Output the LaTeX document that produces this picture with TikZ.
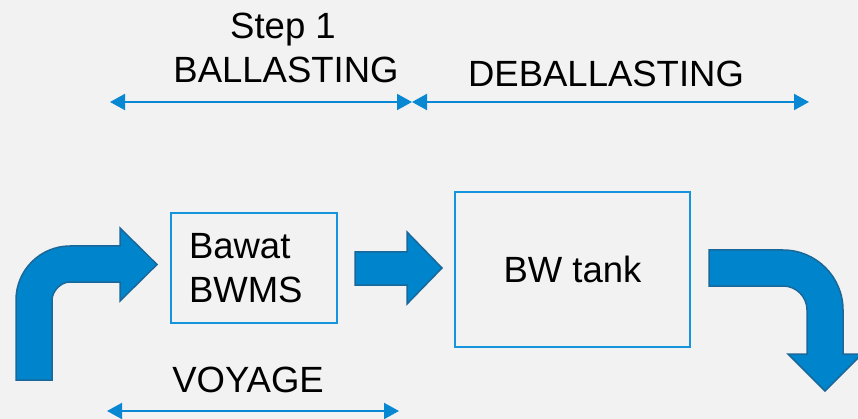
\documentclass[tikz,border=0pt]{standalone}
\usepackage{fontspec}
\setmainfont{Liberation Sans}
\usetikzlibrary{arrows.meta}
\definecolor{bg}{HTML}{F2F2F2}
\definecolor{linec}{RGB}{8,136,210}
\definecolor{boxc}{RGB}{20,148,220}
\definecolor{blockfill}{RGB}{0,133,204}
\definecolor{blockdraw}{RGB}{26,104,154}
\tikzset{
  lbl/.style={anchor=base, inner sep=0pt, font=\fontsize{36.5}{44}\selectfont},
  boxnode/.style={draw=boxc, line width=1.8pt, fill=none, font=\fontsize{36.5}{44}\selectfont},
  span/.style={draw=linec, line width=2pt, {Triangle[length=15pt,width=16pt]}-{Triangle[length=15pt,width=16pt]}},
  block/.style={fill=blockfill, draw=blockdraw, line width=1.5pt, line join=miter}
}
\begin{document}
\begin{tikzpicture}[x=1pt,y=-1pt]
\fill[bg] (0,0) rectangle (858,419);
\clip (0,0) rectangle (858,419);
\useasboundingbox (0,0) rectangle (858,419);

% labels
\node[lbl] (step) at (283,39) {Step 1};
\node[lbl] (ball) at (286,83) {BALLASTING};
\node[lbl] (deball) at (606,87) {DEBALLASTING};
\node[lbl] (voy) at (248,392) {VOYAGE};

% span arrows
\coordinate (s1a) at (110,102);
\coordinate (s1b) at (412,102);
\coordinate (s2a) at (412,102);
\coordinate (s2b) at (809,102);
\coordinate (s3a) at (107,411);
\coordinate (s3b) at (399,411);
\draw[span] (s1a) -- (s1b);
\draw[span] (s2a) -- (s2b);
\draw[span] (s3a) -- (s3b);

% boxes
\node[boxnode, minimum width=166pt, minimum height=110pt, text width=130pt, inner xsep=18pt, align=left] (bwms) at (254,268) {Bawat\\BWMS};
\node[boxnode, minimum width=235pt, minimum height=155pt] (tank) at (572.5,269.5) {BW tank};

% left bent arrow
\draw[block] (16,380) -- (16,300)
  .. controls (16,270.2) and (40.2,246) .. (70,246)
  -- (120,246) -- (120,228) -- (157,264.5) -- (120,301) -- (120,282)
  -- (70,282) .. controls (60.06,282) and (52,291.94) .. (52,300)
  -- (52,380) -- cycle;

% middle arrow
\draw[block] (355,252) -- (407,252) -- (407,232) -- (442,268) -- (407,304) -- (407,285) -- (355,285) -- cycle;

% right bent arrow
\draw[block] (709,250) -- (783,250)
  .. controls (816.1,250) and (843,276.9) .. (843,310)
  -- (843,354) -- (862,354) -- (825,391) -- (788,354) -- (807,354)
  -- (807,310) .. controls (807,296.75) and (796.25,286) .. (783,286)
  -- (709,286) -- cycle;
\end{tikzpicture}
\end{document}
